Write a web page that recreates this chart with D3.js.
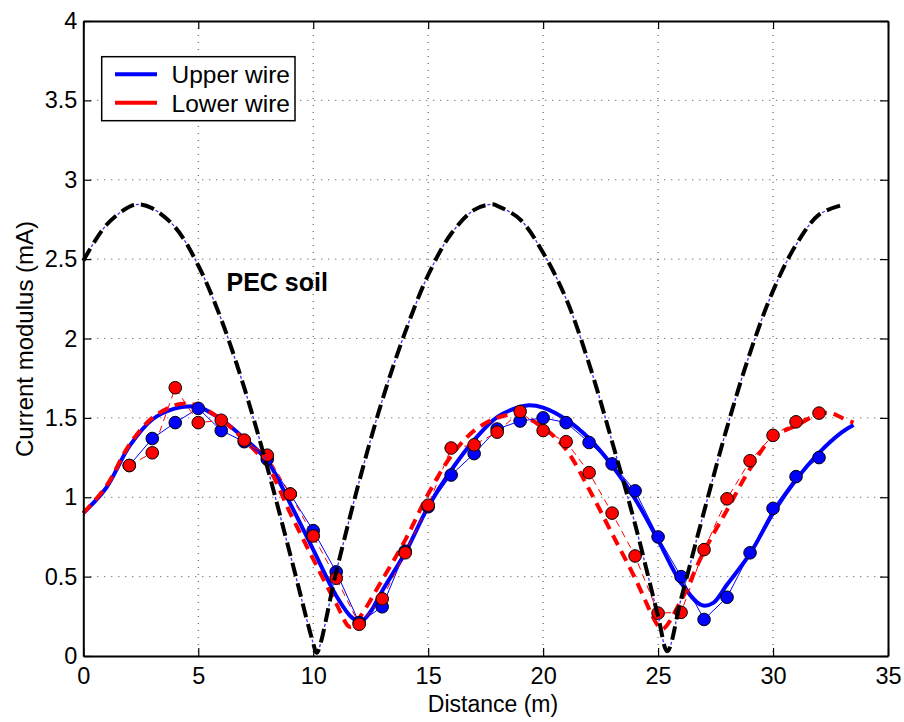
<!DOCTYPE html>
<html>
<head>
<meta charset="utf-8">
<script src="https://cdn.jsdelivr.net/npm/d3@7"></script>
<style>
  html, body { margin: 0; padding: 0; background: #fff; }
  svg { display: block; font-family: "Liberation Sans", Arial, Helvetica, sans-serif; }
</style>
</head>
<body>
<svg id="chart" width="904" height="722"></svg>
<script>
// ---- data ----
const xTicks = [0, 5, 10, 15, 20, 25, 30, 35];
const yTicks = [0, 0.5, 1, 1.5, 2, 2.5, 3, 3.5, 4];
const yTickLabels = ["0", "0.5", "1", "1.5", "2", "2.5", "3", "3.5", "4"];

const seriesNames = ["Upper wire", "Lower wire"];

// simulated upper wire (thick solid blue)
const upperSimX = [0, 1, 2, 3, 4, 4.8, 5, 6, 7, 8, 9, 10, 11, 11.7, 12.1, 12.5, 13, 14, 15, 16, 17, 18, 19, 19.4, 20, 21, 22, 23, 24, 25, 26, 26.9, 27.4, 28, 29, 30, 31, 32, 33, 33.5];
const upperSimY = [0.90, 1.06, 1.32, 1.49, 1.56, 1.573, 1.57, 1.49, 1.37, 1.23, 0.96, 0.67, 0.38, 0.24, 0.22, 0.28, 0.41, 0.65, 0.94, 1.17, 1.36, 1.505, 1.57, 1.58, 1.565, 1.49, 1.37, 1.20, 0.99, 0.73, 0.46, 0.32, 0.335, 0.45, 0.645, 0.90, 1.11, 1.28, 1.41, 1.455];

// simulated lower wire (thick dashed red)
const lowerSimX = [0, 1, 2, 3, 4, 4.4, 5, 6, 7, 8, 9, 10, 11, 11.6, 12, 13, 14, 15, 16, 17, 18, 18.8, 19, 20, 21, 22, 23, 24, 25, 25.2, 26, 27, 28, 29, 30, 31, 32, 32.5, 33, 33.5];
const lowerSimY = [0.90, 1.07, 1.33, 1.50, 1.58, 1.59, 1.575, 1.49, 1.36, 1.20, 0.90, 0.61, 0.33, 0.183, 0.24, 0.48, 0.73, 1.02, 1.26, 1.42, 1.50, 1.525, 1.52, 1.44, 1.30, 1.05, 0.77, 0.49, 0.19, 0.17, 0.35, 0.66, 0.92, 1.18, 1.38, 1.45, 1.525, 1.53, 1.50, 1.47];

// measured points
const measX = [2, 3, 4, 5, 6, 7, 8, 9, 10, 11, 12, 13, 14, 15, 16, 17, 18, 19, 20, 21, 22, 23, 24, 25, 26, 27, 28, 29, 30, 31, 32];
const upperMeas = [1.20, 1.37, 1.47, 1.56, 1.42, 1.35, 1.24, 1.02, 0.79, 0.53, 0.21, 0.31, 0.66, 0.94, 1.14, 1.275, 1.43, 1.48, 1.50, 1.47, 1.345, 1.21, 1.04, 0.75, 0.50, 0.23, 0.37, 0.65, 0.93, 1.13, 1.25];
const lowerMeas = [1.20, 1.28, 1.69, 1.47, 1.485, 1.36, 1.265, 1.02, 0.756, 0.49, 0.20, 0.36, 0.65, 0.95, 1.31, 1.33, 1.41, 1.54, 1.42, 1.35, 1.155, 0.90, 0.63, 0.27, 0.275, 0.67, 0.99, 1.23, 1.39, 1.475, 1.53];

// PEC soil reference curve
const pecX = [0, 1, 2, 2.45, 3, 4, 5, 6, 7, 8, 9, 10, 10.15, 11, 12, 13, 14, 15, 16, 17, 17.75, 18, 19, 20, 21, 22, 23, 24, 25, 25.4, 26, 27, 28, 29, 30, 31, 32, 33];
const pecY = [2.49, 2.715, 2.83, 2.845, 2.82, 2.70, 2.46, 2.12, 1.69, 1.19, 0.64, 0.08, 0.02, 0.53, 1.10, 1.61, 2.04, 2.40, 2.66, 2.81, 2.845, 2.836, 2.75, 2.54, 2.25, 1.84, 1.35, 0.83, 0.25, 0.03, 0.36, 0.91, 1.44, 1.91, 2.30, 2.59, 2.78, 2.84];

const pecLabel = "PEC soil";
const xLabel = "Distance (m)";
const yLabel = "Current modulus (mA)";

// ---- layout ----
const svg = d3.select("#chart");
const L = 83.3, R = 888, T = 21, B = 656;
const x = d3.scaleLinear().domain([0, 35]).range([L, R]);
const y = d3.scaleLinear().domain([0, 4]).range([B, T]);
const FS = 23.5;

// grid
const grid = svg.append("g");
grid.selectAll("line.vx").data(xTicks.slice(1, -1)).join("line")
  .attr("x1", d => x(d)).attr("x2", d => x(d)).attr("y1", T).attr("y2", B)
  .attr("stroke", "#444").attr("stroke-width", 1).attr("stroke-dasharray", "1,6");
grid.selectAll("line.hy").data(yTicks.slice(1, -1)).join("line")
  .attr("y1", d => y(d)).attr("y2", d => y(d)).attr("x1", L).attr("x2", R)
  .attr("stroke", "#444").attr("stroke-width", 1).attr("stroke-dasharray", "1,6");

// lines
const zip = (xs, ys) => xs.map((v, i) => [v, ys[i]]);
const smooth = d3.line().x(d => x(d[0])).y(d => y(d[1])).curve(d3.curveCatmullRom.alpha(0.5));
const straight = d3.line().x(d => x(d[0])).y(d => y(d[1]));

svg.append("path").attr("d", smooth(zip(upperSimX, upperSimY)))
  .attr("fill", "none").attr("stroke", "#0000ff").attr("stroke-width", 4).attr("stroke-linejoin", "round");
svg.append("path").attr("d", smooth(zip(lowerSimX, lowerSimY)))
  .attr("fill", "none").attr("stroke", "#ff0000").attr("stroke-width", 4).attr("stroke-dasharray", "11,7");

// measured thin lines
svg.append("path").attr("d", straight(zip(measX, upperMeas)))
  .attr("fill", "none").attr("stroke", "#0000ff").attr("stroke-width", 1);
svg.append("path").attr("d", straight(zip(measX, lowerMeas)))
  .attr("fill", "none").attr("stroke", "#ff0000").attr("stroke-width", 1).attr("stroke-dasharray", "7,5");

// measured markers
svg.append("g").selectAll("circle").data(zip(measX, upperMeas)).join("circle")
  .attr("cx", d => x(d[0])).attr("cy", d => y(d[1])).attr("r", 6.3)
  .attr("fill", "#0000ff").attr("stroke", "#000").attr("stroke-width", 1);
svg.append("g").selectAll("circle").data(zip(measX, lowerMeas)).join("circle")
  .attr("cx", d => x(d[0])).attr("cy", d => y(d[1])).attr("r", 6.3)
  .attr("fill", "#ff0000").attr("stroke", "#000").attr("stroke-width", 1);

// PEC curve: thin blue dash-dot under black dashed
const pecPath = smooth(zip(pecX, pecY));
svg.append("path").attr("d", pecPath)
  .attr("fill", "none").attr("stroke", "#3333ff").attr("stroke-width", 1.3)
  .attr("stroke-dasharray", "3,18").attr("stroke-dashoffset", -16);
svg.append("path").attr("d", pecPath)
  .attr("fill", "none").attr("stroke", "#000").attr("stroke-width", 4)
  .attr("stroke-dasharray", "14,7");

// axes
function styleAxis(g) {
  g.selectAll("path.domain").attr("stroke", "#000").attr("stroke-width", 2);
  g.selectAll(".tick line").attr("stroke", "#000").attr("stroke-width", 1.2);
  g.selectAll(".tick text").attr("fill", "#000").style("font-size", FS + "px")
    .style("font-family", "'Liberation Sans', Arial, Helvetica, sans-serif");
}
const xAxis = d3.axisBottom(x).tickValues(xTicks).tickFormat(d3.format("d")).tickSizeInner(-8).tickSizeOuter(0).tickPadding(11);
svg.append("g").attr("transform", `translate(0,${B})`).call(xAxis).call(styleAxis);
const xAxisTop = d3.axisTop(x).tickValues(xTicks).tickFormat("").tickSizeInner(-8).tickSizeOuter(0);
svg.append("g").attr("transform", `translate(0,${T})`).call(xAxisTop).call(styleAxis);
const yAxis = d3.axisLeft(y).tickValues(yTicks).tickFormat((d, i) => yTickLabels[i]).tickSizeInner(-8).tickSizeOuter(0).tickPadding(6);
svg.append("g").attr("transform", `translate(${L},0)`).call(yAxis).call(styleAxis);
const yAxisRight = d3.axisRight(y).tickValues(yTicks).tickFormat("").tickSizeInner(-8).tickSizeOuter(0);
svg.append("g").attr("transform", `translate(${R},0)`).call(yAxisRight).call(styleAxis);

// axis labels
svg.append("text").attr("x", 493).attr("y", 712).attr("text-anchor", "middle")
  .style("font-size", "23px").text(xLabel);
svg.append("text").attr("transform", "translate(32.5,339) rotate(-90)").attr("text-anchor", "middle")
  .style("font-size", "24px").text(yLabel);

// PEC label
svg.append("text").attr("x", 226.5).attr("y", 290.5).style("font-size", "25px").style("font-weight", "bold").text(pecLabel);

// legend
const leg = svg.append("g");
leg.append("rect").attr("x", 101.7).attr("y", 56.7).attr("width", 193.3).attr("height", 64)
  .attr("fill", "#fff").attr("stroke", "#000").attr("stroke-width", 1.5);
const legColors = ["#0000ff", "#ff0000"];
const legY = [74.3, 102.7];
seriesNames.forEach((name, i) => {
  leg.append("line").attr("x1", 115).attr("x2", 157).attr("y1", legY[i]).attr("y2", legY[i])
    .attr("stroke", legColors[i]).attr("stroke-width", 4);
  leg.append("text").attr("x", 171.5).attr("y", legY[i] + 9).style("font-size", "24.5px").text(name);
});
</script>
</body>
</html>
